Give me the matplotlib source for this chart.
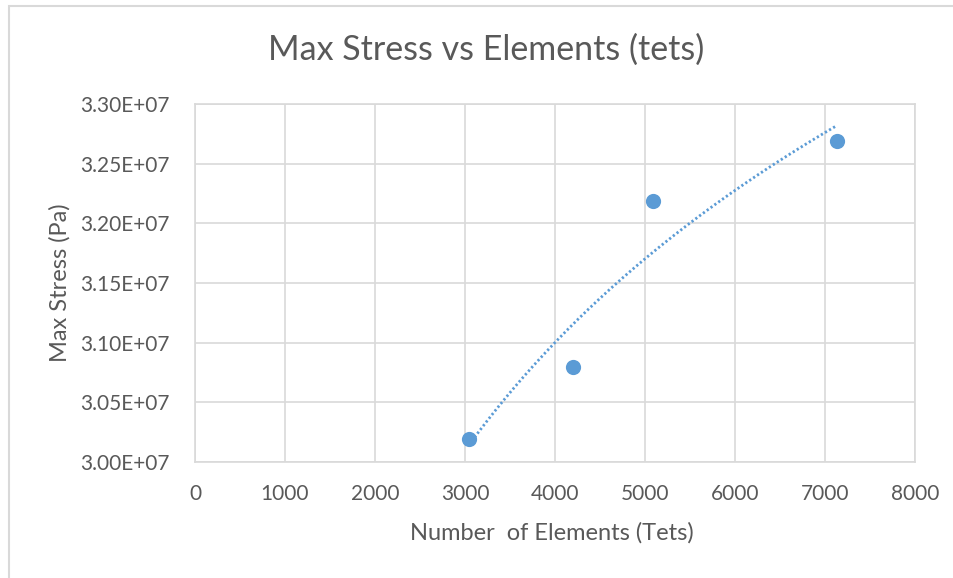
import numpy as np
import matplotlib
matplotlib.use("Agg")
import matplotlib.pyplot as plt
from matplotlib.patches import Rectangle
from matplotlib.ticker import FuncFormatter, MultipleLocator

# Data
elements = [3044, 4197, 5085, 7130]
max_stress = [3.019e7, 3.080e7, 3.219e7, 3.269e7]

title = "Max Stress vs Elements (tets)"
x_label = "Number  of Elements (Tets)"
y_label = "Max Stress (Pa)"

plt.rcParams['font.family'] = ['Lato', 'DejaVu Sans']
txt = '#595959'
blue = '#5b9bd5'
grid = '#d9d9d9'

fig = plt.figure(figsize=(9.54, 5.78), dpi=100)
ax = fig.add_axes([195/954, 1-462/578, 720/954, 358/578])

# Chart border (outer)
fig.patches.append(Rectangle((9/954, -0.05), 1.2, 1-6/578+0.05, transform=fig.transFigure,
                             fill=False, edgecolor=grid, linewidth=1.5, zorder=0))

ax.scatter(elements, max_stress, s=120, color=blue, zorder=3, linewidths=0)

# Logarithmic trendline (least-squares fit like Excel)
lx = np.log(np.array(elements, dtype=float))
a, b = np.polyfit(lx, np.array(max_stress), 1)
xs = np.linspace(min(elements), max(elements), 200)
ax.plot(xs, a*np.log(xs)+b, linestyle=(0, (0.8, 0.9)), color=blue, linewidth=2.0,
        dash_capstyle='butt', zorder=2)

ax.set_xlim(0, 8000)
ax.set_ylim(3.0e7, 3.3e7)
ax.xaxis.set_major_locator(MultipleLocator(1000))
ax.yaxis.set_major_locator(MultipleLocator(0.05e7))
ax.yaxis.set_major_formatter(FuncFormatter(lambda v, p: f"{v:.2E}"))
ax.xaxis.set_major_formatter(FuncFormatter(lambda v, p: f"{v:.0f}"))
ax.grid(True, color=grid, linewidth=1.2)
ax.set_axisbelow(True)
for s in ax.spines.values():
    s.set_color(grid)
    s.set_linewidth(1.2)
ax.tick_params(length=0, labelsize=15, colors=txt)
ax.tick_params(axis='y', pad=18)
ax.tick_params(axis='x', pad=16)

fig.text(486/954, 1-50/578, title, ha='center', va='center', fontsize=24.5, color=txt)
fig.text(552/954, 1-533/578, x_label, ha='center', va='center', fontsize=17, color=txt)
fig.text(60/954, 1-283/578, y_label, ha='center', va='center', rotation=90, fontsize=17, color=txt)

fig.savefig("out.png", dpi=100)
